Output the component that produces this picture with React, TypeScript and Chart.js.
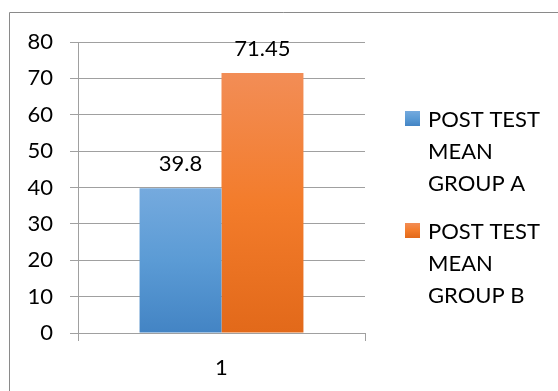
import React, { useEffect, useRef } from "react";
import { Chart, registerables } from "chart.js";

Chart.register(...registerables);

const categories = ["1"];
const seriesNames = [
  ["POST TEST", "MEAN", "GROUP A"],
  ["POST TEST", "MEAN", "GROUP B"],
];
const groupA = [39.8];
const groupB = [71.45];
const valueLabels = [["39.8"], ["71.45"]];
const yTicks = [0, 80, 10];

const FONT = "Lato, 'Open Sans', sans-serif";
const TEXT = "#000";
const blueStops = ["#75AADE", "#5B9BD5", "#4384C4"];
const orangeStops = ["#F28D56", "#F37C2B", "#E2691A"];
const solid = ["#5B9BD5", "#ED7D31"];

function grad(c: CanvasRenderingContext2D, top: number, bottom: number, stops: string[]) {
  const g = c.createLinearGradient(0, top, 0, bottom);
  g.addColorStop(0, stops[0]);
  g.addColorStop(0.5, stops[1]);
  g.addColorStop(1, stops[2]);
  return g;
}

function barFill(stops: string[], idx: number) {
  return (ctx: any) => {
    const chart = ctx.chart;
    if (!chart.chartArea || ctx.type !== "data") return solid[idx];
    const y = chart.scales.y;
    const top = y.getPixelForValue(ctx.raw);
    const bottom = y.getPixelForValue(0);
    return grad(chart.ctx, top, bottom, stops);
  };
}

const framePlugin = {
  id: "frame",
  beforeDraw(chart: any) {
    const c = chart.ctx;
    c.save();
    c.fillStyle = "#fff";
    c.fillRect(0, 0, chart.width, chart.height);
    c.strokeStyle = "#8a8a8a";
    c.lineWidth = 1;
    c.beginPath();
    c.moveTo(9.5, chart.height);
    c.lineTo(9.5, 12.5);
    c.lineTo(chart.width, 12.5);
    c.stroke();
    c.restore();
  },
};

const labelPlugin = {
  id: "valueLabels",
  afterDatasetsDraw(chart: any) {
    const c = chart.ctx;
    c.save();
    c.font = `22px ${FONT}`;
    c.fillStyle = TEXT;
    c.textAlign = "center";
    c.textBaseline = "alphabetic";
    chart.data.datasets.forEach((ds: any, di: number) => {
      const meta = chart.getDatasetMeta(di);
      meta.data.forEach((bar: any, i: number) => {
        c.fillText(valueLabels[di][i], bar.x, bar.y - 17);
      });
    });
    c.restore();
  },
};

const legendPlugin = {
  id: "customLegend",
  afterDraw(chart: any) {
    const c = chart.ctx;
    const stopsList = [blueStops, orangeStops];
    const tops = [111, 223];
    c.save();
    c.font = `22px ${FONT}`;
    c.textAlign = "left";
    c.textBaseline = "alphabetic";
    seriesNames.forEach((lines, si) => {
      const t = tops[si];
      c.fillStyle = grad(c, t, t + 15, stopsList[si]);
      c.fillRect(405, t, 15, 15);
      c.fillStyle = TEXT;
      lines.forEach((ln, li) => {
        c.fillText(ln, 428, t + 15.5 + li * 32);
      });
    });
    c.restore();
  },
};

export default function App() {
  const ref = useRef<HTMLCanvasElement>(null);
  useEffect(() => {
    if (!ref.current) return;
    const chart = new Chart(ref.current, {
      type: "bar",
      data: {
        labels: categories,
        datasets: [
          {
            label: seriesNames[0].join(" "),
            data: groupA,
            backgroundColor: barFill(blueStops, 0),
            categoryPercentage: 0.571,
            barPercentage: 1,
          },
          {
            label: seriesNames[1].join(" "),
            data: groupB,
            backgroundColor: barFill(orangeStops, 1),
            categoryPercentage: 0.571,
            barPercentage: 1,
          },
        ],
      },
      options: {
        responsive: false,
        animation: false,
        devicePixelRatio: 1,
        layout: { padding: { left: 0, top: 42, right: 193, bottom: 0 } },
        plugins: { legend: { display: false }, tooltip: { enabled: false } },
        scales: {
          x: {
            offset: true,
            afterFit: (s: any) => {
              s.height = 58;
            },
            grid: {
              display: true,
              drawOnChartArea: false,
              drawTicks: true,
              tickLength: 8,
              color: "#a0a0a0",
              offset: true,
            },
            border: { display: true, color: "#a0a0a0" },
            ticks: { color: TEXT, font: { family: FONT, size: 22 }, padding: 14 },
          },
          y: {
            min: yTicks[0],
            max: yTicks[1],
            afterFit: (s: any) => {
              s.width = 78;
            },
            ticks: {
              stepSize: yTicks[2],
              color: TEXT,
              font: { family: FONT, size: 22 },
              padding: 17,
            },
            grid: { color: "#a0a0a0", tickLength: 8, drawTicks: true },
            border: { display: true, color: "#a0a0a0" },
          },
        },
      },
      plugins: [framePlugin, labelPlugin, legendPlugin],
    });
    return () => chart.destroy();
  }, []);
  return (
    <div style={{ position: "absolute", left: 0, top: 0, width: 558, height: 391 }}>
      <canvas ref={ref} width={558} height={391} />
    </div>
  );
}
